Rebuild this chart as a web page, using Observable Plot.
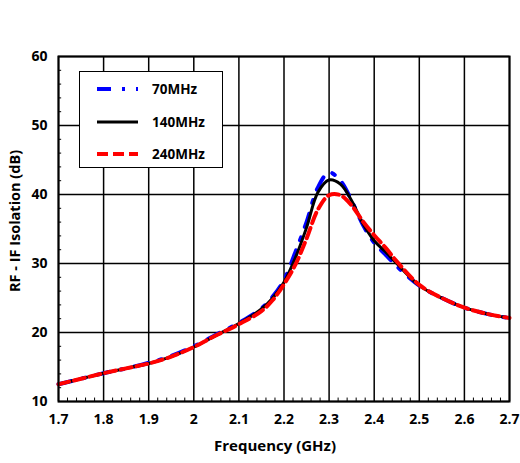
<!DOCTYPE html>
<html><head><meta charset="utf-8">
<script src="https://cdn.jsdelivr.net/npm/d3@7"></script>
<script src="https://cdn.jsdelivr.net/npm/@observablehq/plot@0.6"></script>
<style>
body{margin:0;background:#fff;}
#wrap{position:relative;width:520px;height:463px;overflow:hidden;}
#title{position:absolute;left:0;width:546px;top:6px;text-align:center;font:bold 16px "Liberation Sans",Arial,sans-serif;color:#000;}
#legend{position:absolute;left:79px;top:71px;width:142px;height:95px;border:1.5px solid #000;background:#fff;}
#legend svg{position:absolute;left:0;top:0;}
</style></head>
<body><div id="wrap"><div id="title">RF - IF Isolation vs LO Freq.</div></div>
<script>
const freq = [1.7,1.75,1.8,1.85,1.9,1.95,2.0,2.05,2.1,2.15,2.175,2.2,2.225,2.25,2.275,2.3,2.325,2.35,2.375,2.4,2.425,2.45,2.5,2.55,2.6,2.65,2.7];
const iso70  = [12.5,13.3,14.1,14.8,15.6,16.6,18.0,19.7,21.4,23.5,25.2,27.6,31.6,36.0,41.0,43.2,42.0,39.1,35.6,33.0,31.3,29.6,26.8,25.0,23.6,22.7,22.1];
const iso140 = [12.5,13.3,14.1,14.8,15.5,16.5,17.9,19.6,21.3,23.4,25.0,27.3,30.8,35.2,40.3,42.1,41.5,39.1,35.8,33.3,31.7,30.0,26.8,25.0,23.6,22.7,22.1];
const iso240 = [12.5,13.3,14.1,14.8,15.5,16.5,17.9,19.6,21.2,23.1,24.7,27.0,29.8,33.6,37.8,39.9,39.9,38.4,36.1,34.1,32.3,30.3,26.9,25.0,23.6,22.7,22.1];
const seriesNames = ["70MHz","140MHz","240MHz"];
const xTicks = [1.7,1.8,1.9,2.0,2.1,2.2,2.3,2.4,2.5,2.6,2.7];
const yTicks = [10,20,30,40,50,60];
const xDomain = [1.7,2.7];
const yDomain = [10,60];
const xMinor = d3.range(0,51).map(i => +(1.7 + i*0.02).toFixed(2)).filter(v => !xTicks.some(t => Math.abs(t-v)<1e-9));
const yMinor = d3.range(10,61,2).filter(v => !yTicks.includes(v));

const styles = [
  {stroke:"#0000ff", strokeWidth:4, strokeDasharray:"14,11,3,11"},
  {stroke:"#000000", strokeWidth:3, strokeDasharray:null},
  {stroke:"#ff0000", strokeWidth:4, strokeDasharray:"11,5"}
];
const vals = [iso70, iso140, iso240];
const rows = vals.map(arr => freq.map((f,i) => ({f, v: arr[i]})));

const font = '"Open Sans", "DejaVu Sans", sans-serif';
const chart = Plot.plot({
  width: 520, height: 463,
  marginTop: 56, marginBottom: 62, marginLeft: 58, marginRight: 11,
  style: {fontFamily: font, fontSize: "14px", fontWeight: "bold", color: "#000", background: "#fff"},
  x: {domain: xDomain, ticks: xTicks, tickFormat: d => String(+d.toFixed(1)), label: null},
  y: {domain: yDomain, ticks: yTicks, label: null},
  marks: [
    Plot.gridX(xTicks, {stroke: "#000", strokeOpacity: 1, strokeWidth: 1.5}),
    Plot.gridY(yTicks, {stroke: "#000", strokeOpacity: 1, strokeWidth: 1.5}),
    Plot.ruleX(xMinor, {y1: yDomain[0], y2: yDomain[0] + 0.5, stroke: "#000", strokeWidth: 1}),
    Plot.ruleY(yMinor, {x1: xDomain[0], x2: xDomain[0] + 0.007, stroke: "#000", strokeWidth: 1}),
    ...rows.map((r,k) => Plot.line(r, {x: "f", y: "v", curve: "catmull-rom", ...styles[k]})),
    Plot.frame({stroke: "#000", strokeWidth: 2}),
    Plot.axisX(xTicks, {tickSize: 0, tickPadding: 13, tickFormat: d => String(+d.toFixed(1)), fontSize: 14, fontWeight: "bold", label: null}),
    Plot.axisY(yTicks, {tickSize: 0, tickPadding: 11, fontSize: 14, fontWeight: "bold", label: null}),
    Plot.text(["Frequency (GHz)"], {frameAnchor: "bottom", dy: 49, dx: -9, fontSize: 15, fontWeight: "bold", fill: "#000"}),
    Plot.text(["RF - IF Isolation (dB)"], {frameAnchor: "left", textAnchor: "middle", dx: -43, dy: -8, rotate: -90, fontSize: 14.5, fontWeight: "bold", fill: "#000"})
  ]
});
const wrap = document.getElementById("wrap");
chart.style.position = "absolute"; chart.style.left = "0"; chart.style.top = "0";
wrap.appendChild(chart);

// legend
const leg = document.createElement("div");
leg.id = "legend";
const ns = "http://www.w3.org/2000/svg";
const svg = document.createElementNS(ns, "svg");
svg.setAttribute("width", 142); svg.setAttribute("height", 95);
const ys = [17, 50, 82];
seriesNames.forEach((name, k) => {
  const ln = document.createElementNS(ns, "line");
  ln.setAttribute("x1", 17); ln.setAttribute("x2", 58);
  ln.setAttribute("y1", ys[k]); ln.setAttribute("y2", ys[k]);
  ln.setAttribute("stroke", styles[k].stroke);
  ln.setAttribute("stroke-width", styles[k].strokeWidth);
  if (styles[k].strokeDasharray) ln.setAttribute("stroke-dasharray", styles[k].strokeDasharray);
  svg.appendChild(ln);
  const tx = document.createElementNS(ns, "text");
  tx.setAttribute("x", 72); tx.setAttribute("y", ys[k]);
  tx.setAttribute("dy", "0.35em");
  tx.setAttribute("font-family", font);
  tx.setAttribute("font-size", 13.5); tx.setAttribute("font-weight", "bold");
  tx.textContent = name;
  svg.appendChild(tx);
});
leg.appendChild(svg);
wrap.appendChild(leg);
</script>
</body></html>
